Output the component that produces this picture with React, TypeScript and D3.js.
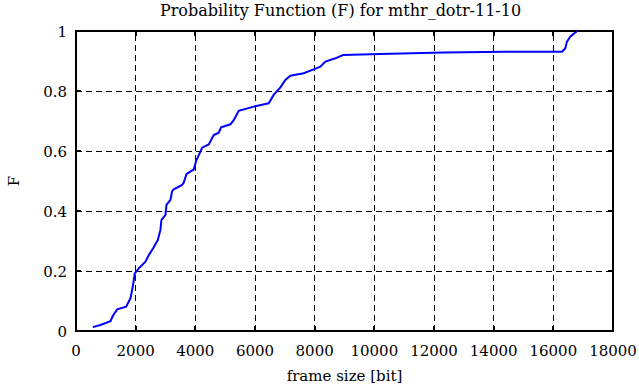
import * as React from "react";
import { scaleLinear, line } from "d3";

const frameSize = [
  563, 820, 1156, 1233, 1380, 1680, 1826, 1903, 1970, 2105, 2328, 2440, 2586,
  2741, 2830, 2864, 2998, 3032, 3166, 3222, 3277, 3557, 3612, 3702, 3948, 4037,
  4171, 4227, 4450, 4617, 4784, 4864, 5176, 5287, 5454, 5956, 6459, 6626, 6851,
  7018, 7186, 7631, 7966, 8191, 8358, 8693, 8951, 10201, 12321, 14388, 16288,
  16398, 16455, 16566, 16800,
];
const probF = [
  0.013, 0.02, 0.033, 0.05, 0.072, 0.081, 0.109, 0.148, 0.192, 0.209, 0.231,
  0.253, 0.276, 0.303, 0.337, 0.37, 0.387, 0.42, 0.437, 0.466, 0.472, 0.487,
  0.495, 0.523, 0.539, 0.57, 0.598, 0.611, 0.622, 0.653, 0.661, 0.679, 0.689,
  0.703, 0.734, 0.748, 0.759, 0.787, 0.812, 0.837, 0.851, 0.859, 0.872, 0.881,
  0.898, 0.909, 0.92, 0.923, 0.928, 0.931, 0.931, 0.942, 0.964, 0.981, 1.0,
];
const xTicks = [0, 2000, 4000, 6000, 8000, 10000, 12000, 14000, 16000, 18000];
const yTicks = [0, 0.2, 0.4, 0.6, 0.8, 1];

const width = 639;
const height = 387;
const margin = { top: 31, right: 26, bottom: 56, left: 76 };
const txt = { fontFamily: "DejaVu Serif, serif" };

export default function App() {
  const x = scaleLinear()
    .domain([0, 18000])
    .range([margin.left, width - margin.right]);
  const y = scaleLinear()
    .domain([0, 1])
    .range([height - margin.bottom, margin.top]);

  const pts = frameSize.map((d, i) => [d, probF[i]] as [number, number]);
  const path = line<[number, number]>()
    .x((d) => x(d[0]))
    .y((d) => y(d[1]))(pts);

  const [x0, x1] = x.range();
  const [y0, y1] = y.range();

  return (
    <svg
      width={width}
      height={height}
      style={{ position: "absolute", left: 0, top: 0, background: "white" }}
    >
      <text x={(x0 + x1) / 2 - 4} y={16} textAnchor="middle" fontSize={16} style={txt}>
        Probability Function (F) for mthr_dotr-11-10
      </text>
      {/* grid */}
      <g stroke="black" strokeWidth={1} strokeDasharray="6,4" shapeRendering="crispEdges">
        {xTicks.slice(1, -1).map((t) => (
          <line key={t} x1={x(t)} x2={x(t)} y1={y0} y2={y1} />
        ))}
        {yTicks.slice(1, -1).map((t) => (
          <line key={t} x1={x0} x2={x1} y1={y(t)} y2={y(t)} />
        ))}
      </g>
      {/* ticks */}
      <g stroke="black" strokeWidth={2} shapeRendering="crispEdges">
        {xTicks.map((t) => (
          <g key={t}>
            <line x1={x(t)} x2={x(t)} y1={y0} y2={y0 - 5} />
            <line x1={x(t)} x2={x(t)} y1={y1} y2={y1 + 5} />
          </g>
        ))}
        {yTicks.map((t) => (
          <g key={t}>
            <line x1={x0} x2={x0 + 5} y1={y(t)} y2={y(t)} />
            <line x1={x1} x2={x1 - 5} y1={y(t)} y2={y(t)} />
          </g>
        ))}
      </g>
      <rect
        x={x0}
        y={y1}
        width={x1 - x0}
        height={y0 - y1}
        fill="none"
        stroke="black"
        strokeWidth={2}
        shapeRendering="crispEdges"
      />
      <path d={path ?? ""} fill="none" stroke="#0000ff" strokeWidth={2} />
      {xTicks.map((t) => (
        <text key={t} x={x(t)} y={y0 + 25} textAnchor="middle" fontSize={15} style={txt}>
          {t}
        </text>
      ))}
      {yTicks.map((t) => (
        <text
          key={t}
          x={x0 - 9}
          y={y(t) + 6}
          textAnchor="end"
          fontSize={15}
          style={txt}
        >
          {t}
        </text>
      ))}
      <text x={(x0 + x1) / 2} y={height - 6} textAnchor="middle" fontSize={15} style={txt}>
        frame size [bit]
      </text>
      <text
        transform={`translate(19,${(y0 + y1) / 2}) rotate(-90)`}
        textAnchor="middle"
        fontSize={15}
        style={txt}
      >
        F
      </text>
    </svg>
  );
}
